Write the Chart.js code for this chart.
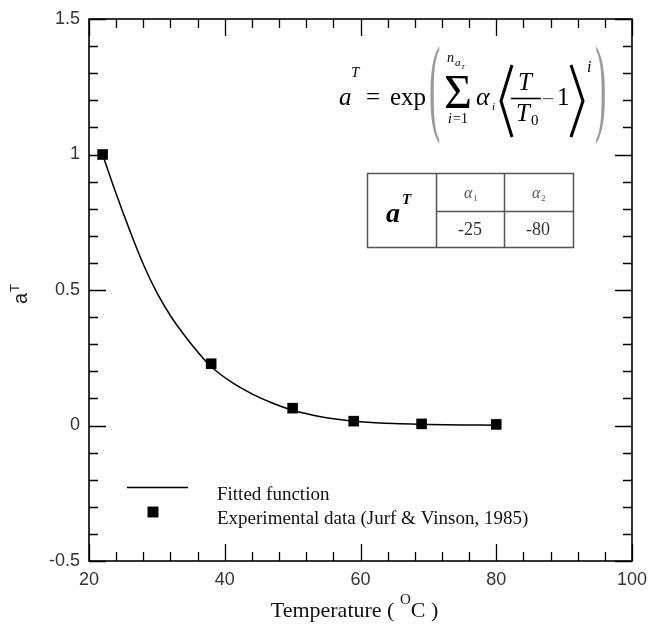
<!DOCTYPE html>
<html>
<head>
<meta charset="utf-8">
<script src="https://cdn.jsdelivr.net/npm/chart.js@4.4.0/dist/chart.umd.min.js"></script>
<style>
  body { margin: 0; background: #fff; }
  canvas { display: block; }
</style>
</head>
<body>
<canvas id="grafica" width="652" height="626"></canvas>
<script>
// experimental data (Jurf & Vinson, 1985)
var expTemp = [22, 38, 50, 59, 69, 80];
var expAT = [1.0, 0.228, 0.064, 0.016, 0.006, 0.004];

// fitted function
var fitTemp = [22, 24, 26, 28, 30, 32, 34, 36, 38, 41, 44, 47, 50, 53, 56, 60, 65, 70, 75, 80];
var fitAT = [1.0, 0.855, 0.72, 0.595, 0.49, 0.405, 0.335, 0.272, 0.217, 0.16, 0.117, 0.083, 0.056, 0.038, 0.025, 0.014, 0.007, 0.004, 0.002, 0.001];

var xTicks = [20, 40, 60, 80, 100];
var yTicks = [-0.5, 0, 0.5, 1, 1.5];

var seriesLabels = ['Fitted function', 'Experimental data (Jurf & Vinson, 1985)'];
var tableHead = ['1', '2'];      // alpha subscripts
var tableVals = ['-25', '-80'];

var SERIF = '"Liberation Serif", "Times New Roman", serif';

function toXY(xs, ys) {
    return xs.map(function (x, i) { return { x: x, y: ys[i] }; });
}

// box with inward major / minor ticks on all four sides
var frameTicks = {
    id: 'frameTicks',
    afterDatasetsDraw: function (chart) {
        var ctx = chart.ctx, ca = chart.chartArea;
        var sx = chart.scales.x, sy = chart.scales.y;
        ctx.save();
        ctx.strokeStyle = '#000';
        ctx.lineWidth = 1.6;
        ctx.strokeRect(ca.left, ca.top, ca.right - ca.left, ca.bottom - ca.top);
        ctx.lineWidth = 1.3;
        var i, v, p, len;
        var xStep = (xTicks[1] - xTicks[0]) / 5;
        for (i = 0; i <= (xTicks.length - 1) * 5; i++) {
            v = xTicks[0] + i * xStep;
            p = Math.round(sx.getPixelForValue(v)) + 0.5;
            len = (i % 5 === 0) ? 17 : 9;
            ctx.beginPath();
            ctx.moveTo(p, ca.bottom); ctx.lineTo(p, ca.bottom - len);
            ctx.moveTo(p, ca.top); ctx.lineTo(p, ca.top + len);
            ctx.stroke();
        }
        var yStep = (yTicks[1] - yTicks[0]) / 5;
        for (i = 0; i <= (yTicks.length - 1) * 5; i++) {
            v = yTicks[0] + i * yStep;
            p = Math.round(sy.getPixelForValue(v)) + 0.5;
            len = (i % 5 === 0) ? 17 : 9;
            ctx.beginPath();
            ctx.moveTo(ca.left, p); ctx.lineTo(ca.left + len, p);
            ctx.moveTo(ca.right, p); ctx.lineTo(ca.right - len, p);
            ctx.stroke();
        }
        ctx.restore();
    }
};

function put(ctx, s, x, y, font, color, align) {
    ctx.font = font;
    ctx.fillStyle = color || '#000';
    ctx.textAlign = align || 'left';
    ctx.textBaseline = 'alphabetic';
    ctx.fillText(s, x, y);
    return ctx.measureText(s).width;
}

function bigParen(ctx, s, x, base) {
    ctx.save();
    ctx.translate(x, base);
    ctx.scale(1, 3.2);
    put(ctx, s, 0, 0, '34px ' + SERIF, '#9a9a9a');
    ctx.restore();
}

var annotations = {
    id: 'annotations',
    afterDraw: function (chart) {
        var ctx = chart.ctx, ca = chart.chartArea;
        var ds = chart.data.datasets;
        ctx.save();

        // axis titles
        var cx = (ca.left + ca.right) / 2 - 6;
        ctx.font = '22px ' + SERIF;
        var w1 = ctx.measureText('Temperature ( ').width;
        ctx.font = '15px ' + SERIF;
        var w2 = ctx.measureText('O').width;
        ctx.font = '22px ' + SERIF;
        var w3 = ctx.measureText('C )').width;
        var x0 = cx - (w1 + w2 + w3) / 2;
        put(ctx, 'Temperature ( ', x0, 617, '22px ' + SERIF, '#111');
        put(ctx, 'O', x0 + w1, 604, '15px ' + SERIF, '#111');
        put(ctx, 'C )', x0 + w1 + w2, 617, '22px ' + SERIF, '#111');

        ctx.save();
        ctx.translate(27, 304);
        ctx.rotate(-Math.PI / 2);
        var wa = put(ctx, 'a', 0, 0, '20px "Liberation Sans", Arial, sans-serif', '#222');
        put(ctx, 'T', wa + 1, -8, '13px "Liberation Sans", Arial, sans-serif', '#222');
        ctx.restore();

        // formula
        var it = 'italic 25px ' + SERIF;
        put(ctx, 'a', 339, 105, it);
        put(ctx, 'T', 351, 77, 'italic 15px ' + SERIF);
        put(ctx, '=', 366, 105, '25px ' + SERIF);
        put(ctx, 'exp', 390, 105, '25px ' + SERIF);
        bigParen(ctx, '(', 429, 121);
        put(ctx, '\u03A3', 444, 108, '48px ' + SERIF);
        put(ctx, 'n', 447, 62, 'italic 14px ' + SERIF);
        put(ctx, 'a', 455, 66, 'italic 11px ' + SERIF);
        put(ctx, 'T', 461, 69, 'italic 7px ' + SERIF);
        put(ctx, 'i', 448, 123, 'italic 14px ' + SERIF);
        put(ctx, '=1', 453, 123, '14px ' + SERIF);
        put(ctx, '\u03B1', 476, 105, 'italic 26px ' + SERIF);
        put(ctx, 'i', 492, 110, 'italic 11px ' + SERIF);
        ctx.strokeStyle = '#000';
        ctx.lineWidth = 3;
        ctx.beginPath();
        ctx.moveTo(512, 65); ctx.lineTo(501, 101); ctx.lineTo(512, 137);
        ctx.moveTo(571, 65); ctx.lineTo(583, 101); ctx.lineTo(571, 137);
        ctx.stroke();
        put(ctx, 'T', 518, 90, it);
        ctx.lineWidth = 1.6;
        ctx.beginPath();
        ctx.moveTo(511, 98.5); ctx.lineTo(541, 98.5);
        ctx.stroke();
        put(ctx, 'T', 516, 121, it);
        put(ctx, '0', 531, 125, '15px ' + SERIF);
        put(ctx, '\u2212', 542, 106, '22px ' + SERIF, '#555');
        put(ctx, '1', 557, 105, '25px ' + SERIF);
        put(ctx, 'i', 587, 72, 'italic 16px ' + SERIF);
        bigParen(ctx, ')', 595, 121);

        // coefficient table
        ctx.strokeStyle = '#555';
        ctx.lineWidth = 1.5;
        ctx.strokeRect(367.5, 173.5, 206, 74);
        ctx.beginPath();
        ctx.moveTo(436.5, 173.5); ctx.lineTo(436.5, 247.5);
        ctx.moveTo(504.5, 173.5); ctx.lineTo(504.5, 247.5);
        ctx.moveTo(436.5, 211.5); ctx.lineTo(573.5, 211.5);
        ctx.stroke();
        put(ctx, 'a', 386, 222, 'bold italic 28px ' + SERIF);
        put(ctx, 'T', 402, 204, 'bold italic 15px ' + SERIF);
        var colX = [470, 538];
        for (var k = 0; k < 2; k++) {
            put(ctx, '\u03B1', colX[k] - 6, 198, 'italic 16px ' + SERIF, '#555');
            put(ctx, tableHead[k], colX[k] + 3, 201, '9px ' + SERIF, '#555');
            put(ctx, tableVals[k], colX[k], 235, '18px ' + SERIF, '#333', 'center');
        }

        // legend, drawn from the dataset styles
        ctx.strokeStyle = ds[0].borderColor;
        ctx.lineWidth = ds[0].borderWidth;
        ctx.beginPath();
        ctx.moveTo(127, 487.5); ctx.lineTo(188, 487.5);
        ctx.stroke();
        Chart.helpers.drawPoint(ctx, {
            pointStyle: ds[1].pointStyle, radius: ds[1].pointRadius, borderWidth: 0
        }, 153, 512);
        ctx.fillStyle = ds[1].backgroundColor;
        ctx.fill();
        put(ctx, ds[0].label, 217, 500, '19px ' + SERIF, '#111');
        put(ctx, ds[1].label, 217, 524, '19px ' + SERIF, '#111');

        ctx.restore();
    }
};

var ctx = document.getElementById('grafica').getContext('2d');
new Chart(ctx, {
    type: 'scatter',
    data: {
        datasets: [
            {
                label: seriesLabels[0],
                data: toXY(fitTemp, fitAT),
                showLine: true,
                borderColor: '#000',
                borderWidth: 1.5,
                pointRadius: 0,
                tension: 0.4,
                fill: false,
            },
            {
                label: seriesLabels[1],
                data: toXY(expTemp, expAT),
                showLine: false,
                pointStyle: 'rect',
                pointRadius: 7.5,
                borderWidth: 0,
                backgroundColor: '#000',
                borderColor: '#000',
            },
        ],
    },
    options: {
        responsive: false,
        animation: false,
        events: [],
        layout: { padding: { top: 19, right: 20, left: 0, bottom: 0 } },
        plugins: {
            legend: { display: false },
            tooltip: { enabled: false },
        },
        scales: {
            x: {
                type: 'linear',
                min: 20,
                max: 100,
                afterBuildTicks: function (s) { s.ticks = xTicks.map(function (v) { return { value: v }; }); },
                afterFit: function (s) { s.height = 65; s.paddingLeft = 0; s.paddingRight = 0; },
                grid: { display: false, drawTicks: false },
                border: { display: false },
                ticks: {
                    padding: 8,
                    color: '#333',
                    font: { family: '"Liberation Sans", Arial, sans-serif', size: 18 },
                    maxRotation: 0,
                    autoSkip: false,
                    callback: function (v) { return String(v); },
                },
            },
            y: {
                type: 'linear',
                min: -0.5,
                max: 1.5,
                afterBuildTicks: function (s) { s.ticks = yTicks.map(function (v) { return { value: v }; }); },
                afterFit: function (s) { s.width = 89; s.paddingTop = 0; s.paddingBottom = 0; },
                grid: { display: false, drawTicks: false },
                border: { display: false },
                ticks: {
                    padding: 9,
                    color: '#333',
                    font: { family: '"Liberation Sans", Arial, sans-serif', size: 18 },
                    autoSkip: false,
                    callback: function (v) { return String(v); },
                },
            },
        },
    },
    plugins: [frameTicks, annotations],
});
</script>
</body>
</html>
